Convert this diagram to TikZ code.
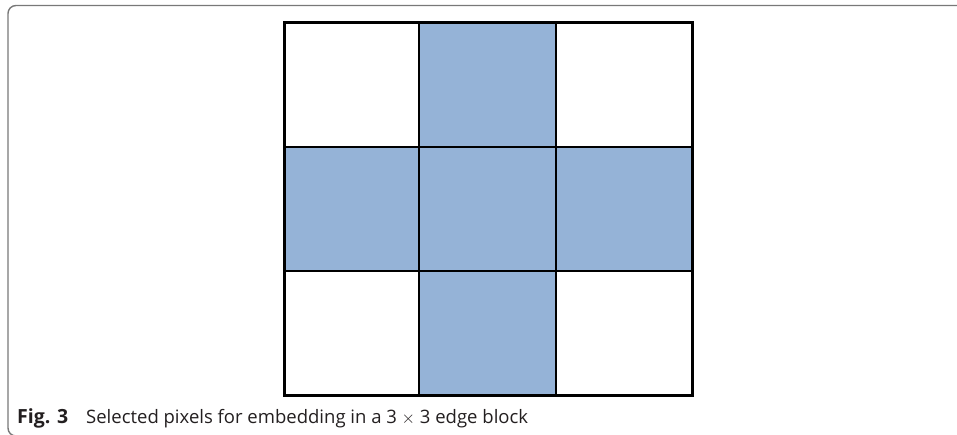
\documentclass[tikz,border=0pt]{standalone}
\usepackage{fontspec}
\setmainfont{Open Sans}
\definecolor{cellblue}{RGB}{149,179,215}
\definecolor{framegray}{RGB}{120,120,120}
\definecolor{captxt}{RGB}{35,31,32}
\begin{document}
\begin{tikzpicture}[x=1pt,y=-1pt,
  cell/.style={draw=black,line width=2pt,inner sep=0pt,outer sep=0pt,anchor=north west},
  bluecell/.style={cell,fill=cellblue},
  whitecell/.style={cell,fill=white},
  frame/.style={draw=framegray,line width=1.4pt,rounded corners=8pt},
  caption/.style={anchor=base west,inner sep=0pt,text=captxt,font=\fontsize{18.5}{22}\selectfont}]
\useasboundingbox (0,0) rectangle (957,435);
% outer frame (extends past right and bottom edges)
\draw[frame] (970,5.5) -- (8,5.5) -- (8,436) -- (970,436);
% grid cells
\node[whitecell,minimum width=135pt,minimum height=124.5pt] (c11) at (284,22.5) {};
\node[bluecell, minimum width=137pt,minimum height=124.5pt] (c12) at (419,22.5) {};
\node[whitecell,minimum width=136pt,minimum height=124.5pt] (c13) at (556,22.5) {};
\node[bluecell, minimum width=135pt,minimum height=124pt] (c21) at (284,147) {};
\node[bluecell, minimum width=137pt,minimum height=124pt] (c22) at (419,147) {};
\node[bluecell, minimum width=136pt,minimum height=124pt] (c23) at (556,147) {};
\node[whitecell,minimum width=135pt,minimum height=124pt] (c31) at (284,271) {};
\node[bluecell, minimum width=137pt,minimum height=124pt] (c32) at (419,271) {};
\node[whitecell,minimum width=136pt,minimum height=124pt] (c33) at (556,271) {};
% outer border
\draw[line width=3pt] (c11.north west) rectangle (c33.south east);
% caption
\node[caption] (cap) at (17,423) {\makebox[69pt][l]{\fontsize{19.5}{22}\selectfont\textbf{Fig. 3}}Selected pixels for embedding in a 3 $\times$ 3 edge block};
\end{tikzpicture}
\end{document}
